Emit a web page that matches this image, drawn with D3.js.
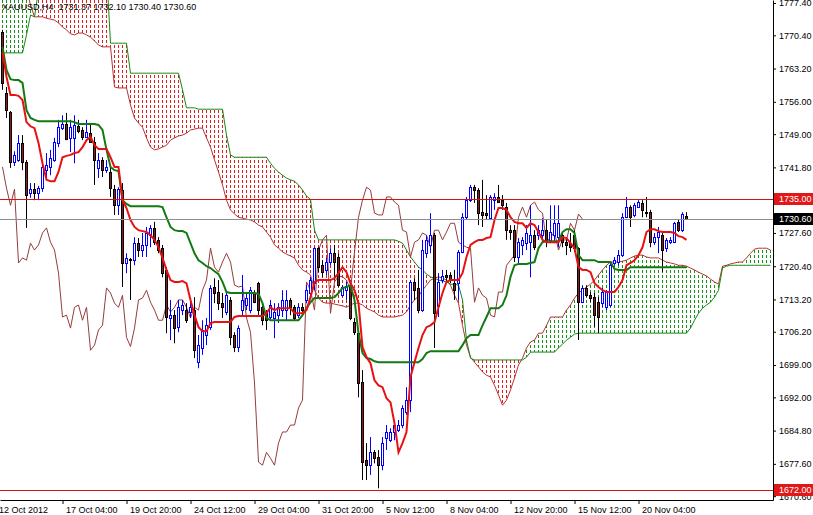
<!DOCTYPE html>
<html><head><meta charset="utf-8">
<script src="https://cdn.jsdelivr.net/npm/d3@7"></script>
<style>
html,body{margin:0;padding:0;background:#fff;}
svg{display:block;font-family:"Liberation Sans",Arial,sans-serif;}
</style></head><body>
<svg id="chart" width="813" height="515"></svg>
<script>
// ---- DATA (XAUUSD H4) ----
const symbolTitle = "XAUUSD,H4  1731.37 1732.10 1730.40 1730.60";

const openVals = [1771.1,1757.9,1753.8,1743.0,1743.4,1747.1,1743.0,1736.2,1737.1,1736.2,
1737.3,1741.2,1741.9,1743.4,1747.1,1750.3,1751.2,1748.2,1748.2,1750.8,
1749.9,1748.4,1749.2,1747.3,1741.7,1743.4,1741.2,1740.8,1737.1,1733.6,
1736.9,1721.1,1721.9,1721.7,1725.4,1723.9,1725.0,1727.1,1728.7,1726.1,
1724.3,1719.6,1709.2,1709.8,1707.2,1710.9,1710.9,1710.5,1710.9,1699.6,
1702.7,1705.5,1707.2,1715.9,1714.8,1712.4,1710.5,1713.1,1705.5,1703.0,
1710.9,1712.0,1710.9,1714.6,1716.7,1711.5,1710.2,1709.4,1709.2,1709.8,
1710.9,1710.9,1713.1,1711.5,1709.8,1711.5,1713.1,1714.6,1716.7,1724.3,
1720.6,1719.6,1721.3,1723.2,1722.4,1714.1,1715.2,1716.3,1708.3,1705.9,
1695.3,1678.4,1677.3,1680.1,1679.0,1677.3,1683.2,1682.7,1684.5,1684.9,
1686.0,1688.8,1691.4,1717.0,1715.7,1710.9,1723.2,1725.0,1727.1,1711.8,
1717.4,1718.5,1718.5,1716.7,1716.7,1723.5,1731.0,1734.7,1737.5,1736.9,
1732.1,1731.9,1730.8,1734.7,1735.4,1734.7,1733.2,1728.2,1728.2,1722.4,
1725.0,1725.4,1725.6,1727.1,1727.1,1727.1,1728.2,1726.1,1727.1,1726.7,
1727.1,1725.6,1725.4,1727.1,1724.3,1712.6,1715.7,1714.1,1713.7,1712.6,
1712.4,1711.5,1712.0,1721.1,1721.3,1722.8,1731.0,1733.2,1731.5,1733.2,
1734.1,1732.1,1732.1,1725.6,1726.7,1727.1,1724.3,1725.6,1725.6,1730.0,
1728.2,1731.37];

const highVals = [1771.6,1759.2,1754.0,1745.3,1748.8,1748.8,1743.4,1738.4,1738.4,1737.8,
1743.0,1744.9,1745.6,1748.2,1752.1,1753.1,1753.6,1752.1,1753.1,1752.1,
1750.5,1752.1,1751.4,1748.4,1744.9,1744.0,1743.4,1741.9,1738.0,1737.5,
1738.4,1723.2,1722.2,1726.7,1726.5,1727.6,1728.9,1729.3,1730.0,1726.7,
1725.0,1720.2,1713.1,1710.9,1713.1,1713.1,1712.4,1713.1,1713.7,1705.5,
1708.7,1709.2,1716.3,1717.8,1717.4,1714.6,1714.8,1713.7,1706.1,1707.6,
1718.5,1714.6,1715.9,1715.2,1717.0,1712.4,1710.9,1713.1,1712.4,1712.4,
1715.2,1715.2,1713.5,1712.0,1712.4,1712.4,1716.3,1718.1,1724.5,1724.5,
1721.7,1722.2,1724.3,1725.0,1723.2,1716.3,1717.0,1716.7,1709.2,1706.6,
1697.9,1682.1,1683.4,1680.6,1680.6,1683.4,1686.0,1685.3,1687.1,1687.1,
1690.3,1694.2,1717.4,1717.8,1719.6,1726.1,1727.1,1731.9,1727.6,1718.9,
1719.6,1719.6,1719.1,1719.6,1723.9,1731.9,1735.4,1738.0,1738.0,1737.3,
1739.1,1735.8,1735.8,1736.2,1738.0,1735.8,1734.1,1729.3,1729.3,1726.5,
1726.7,1729.3,1733.6,1728.2,1729.3,1730.8,1730.4,1733.6,1733.6,1733.6,
1727.8,1726.5,1727.6,1728.2,1724.5,1716.3,1716.3,1714.8,1714.6,1713.7,
1715.7,1715.2,1721.3,1722.4,1723.9,1731.9,1735.4,1733.6,1734.1,1734.7,
1734.7,1735.4,1732.6,1727.6,1728.9,1727.6,1726.5,1726.7,1730.0,1730.4,
1732.1,1732.10];

const lowVals = [1758.6,1752.5,1741.7,1742.1,1743.0,1741.2,1728.7,1735.2,1734.7,1734.7,
1736.5,1739.7,1740.1,1743.0,1746.2,1749.9,1747.7,1745.1,1742.7,1749.2,
1747.7,1748.2,1747.1,1738.0,1739.5,1739.7,1740.6,1735.4,1731.5,1731.5,
1715.9,1718.9,1713.1,1720.6,1722.4,1722.4,1722.4,1724.5,1725.0,1723.2,
1718.0,1705.9,1704.4,1703.7,1706.1,1709.8,1708.1,1709.2,1700.5,1698.3,
1701.2,1703.3,1706.6,1712.4,1710.9,1709.2,1709.8,1703.3,1701.8,1701.8,
1709.8,1710.9,1710.2,1712.4,1709.8,1707.6,1706.6,1708.7,1704.8,1708.1,
1709.4,1708.7,1709.8,1708.7,1709.2,1710.5,1712.4,1713.7,1715.2,1719.1,
1718.0,1718.5,1720.6,1717.4,1715.9,1713.7,1713.1,1708.7,1705.5,1692.0,
1674.1,1674.1,1675.2,1677.7,1672.3,1676.2,1680.6,1682.3,1682.7,1684.5,
1685.3,1688.2,1688.8,1713.1,1710.2,1710.5,1722.2,1723.2,1702.7,1709.4,
1716.7,1716.7,1716.7,1713.1,1713.1,1723.2,1730.4,1734.3,1734.1,1729.3,
1728.9,1730.4,1730.4,1732.6,1734.1,1732.6,1726.1,1726.1,1721.3,1721.1,
1722.8,1723.9,1718.0,1723.9,1726.1,1725.6,1724.5,1725.4,1725.4,1724.5,
1724.5,1722.8,1723.5,1723.5,1704.4,1712.4,1713.7,1712.6,1707.2,1705.9,
1711.5,1710.9,1711.5,1720.6,1720.6,1722.4,1730.8,1728.9,1731.0,1733.0,
1731.0,1731.0,1724.5,1725.0,1723.2,1719.1,1723.5,1725.2,1725.4,1727.8,
1727.8,1730.40];

const closeVals = [1760.1,1754.2,1743.0,1744.5,1747.1,1743.0,1735.8,1737.1,1736.2,1737.3,
1741.9,1742.3,1743.8,1747.3,1750.5,1751.2,1747.9,1750.5,1751.0,1749.7,
1748.4,1749.5,1747.3,1743.4,1743.4,1741.2,1741.9,1737.3,1733.6,1737.1,
1721.1,1722.2,1721.7,1725.4,1723.9,1725.0,1727.6,1728.7,1725.6,1723.9,
1718.9,1709.4,1709.8,1707.0,1711.5,1712.0,1708.7,1711.5,1702.2,1703.3,
1706.6,1707.6,1715.7,1714.6,1712.4,1711.5,1714.1,1705.0,1703.0,1707.0,
1713.1,1713.5,1715.2,1712.6,1710.9,1708.7,1708.7,1712.0,1710.5,1711.5,
1713.1,1713.1,1711.5,1709.2,1711.5,1710.9,1715.2,1717.4,1724.3,1720.2,
1719.1,1721.3,1723.2,1721.3,1716.3,1715.9,1716.1,1709.2,1706.1,1695.1,
1678.0,1677.3,1680.1,1678.8,1677.3,1682.1,1684.5,1684.5,1686.0,1686.0,
1689.7,1691.4,1717.0,1715.2,1710.9,1723.9,1726.1,1727.1,1710.2,1717.0,
1718.3,1718.1,1717.4,1715.2,1723.5,1731.0,1734.7,1737.5,1736.9,1731.9,
1731.5,1731.5,1735.4,1735.4,1734.3,1733.6,1728.2,1727.8,1722.4,1725.6,
1726.1,1727.6,1727.1,1724.5,1728.2,1728.2,1726.1,1727.8,1729.7,1729.7,
1725.6,1725.0,1724.5,1724.3,1712.6,1715.7,1714.1,1713.5,1709.8,1709.4,
1714.8,1714.8,1720.6,1721.7,1722.8,1731.0,1733.2,1731.0,1733.6,1734.3,
1732.6,1731.9,1725.6,1726.7,1727.8,1723.9,1726.1,1726.1,1729.7,1728.2,
1731.7,1730.60];

const tenkan = [1766.8,1761.4,1757.5,1757.5,1757.3,1756.4,1751.6,1750.7,1750.3,1747.1,
1742.7,1739.1,1738.8,1738.8,1740.8,1744.0,1744.3,1744.5,1744.9,1745.1,
1746.2,1747.7,1748.4,1746.6,1745.8,1745.8,1745.8,1744.0,1741.9,1741.9,
1734.7,1733.0,1730.4,1728.9,1728.2,1728.0,1727.8,1727.1,1726.1,1724.5,
1722.2,1719.6,1717.4,1717.0,1717.0,1717.2,1716.7,1713.1,1709.8,1707.2,
1706.3,1706.3,1708.1,1708.3,1708.3,1708.3,1708.3,1708.3,1709.4,1709.6,
1709.6,1709.6,1709.6,1709.6,1709.6,1709.6,1710.2,1711.5,1710.9,1711.3,
1711.3,1711.3,1711.3,1710.2,1710.2,1710.2,1710.9,1713.7,1717.0,1717.4,
1717.4,1717.4,1717.4,1717.8,1718.9,1720.2,1719.1,1716.7,1715.2,1712.4,
1702.9,1700.7,1699.4,1695.7,1694.6,1694.2,1691.8,1690.9,1686.4,1680.1,
1682.1,1684.5,1696.4,1699.6,1702.7,1705.5,1707.2,1707.6,1708.3,1711.5,
1714.6,1717.0,1717.4,1717.4,1717.4,1718.9,1722.4,1725.0,1725.6,1726.1,
1726.1,1726.5,1726.7,1730.4,1733.0,1733.0,1732.6,1731.0,1730.0,1729.7,
1729.7,1728.7,1729.7,1729.3,1727.8,1726.1,1725.6,1725.6,1725.6,1725.6,
1726.7,1726.5,1725.4,1724.3,1720.2,1719.6,1719.6,1719.1,1716.7,1715.9,
1715.2,1714.8,1714.8,1714.8,1715.9,1717.4,1720.6,1721.1,1721.7,1722.8,
1724.5,1727.8,1728.4,1728.4,1728.0,1727.8,1727.8,1727.8,1727.6,1726.9,
1726.7,1726.1];

const kijun = [1767.9,1762.9,1760.9,1760.7,1760.7,1760.1,1754.2,1752.5,1752.1,1751.8,
1751.8,1751.8,1751.8,1751.8,1751.8,1751.8,1751.8,1751.8,1751.6,1751.2,
1751.2,1751.2,1751.2,1751.2,1751.0,1749.9,1745.6,1741.9,1741.2,1741.0,
1734.7,1733.9,1733.4,1733.4,1733.4,1733.4,1733.4,1733.4,1733.4,1733.4,
1733.2,1731.0,1728.9,1728.2,1728.0,1728.0,1727.6,1725.4,1723.2,1721.7,
1721.1,1720.4,1720.0,1719.3,1718.7,1717.0,1714.8,1714.6,1714.6,1714.6,
1714.6,1714.6,1714.6,1714.6,1714.4,1712.4,1709.2,1708.7,1708.7,1708.7,
1708.7,1708.7,1708.7,1708.7,1708.7,1709.8,1711.3,1712.6,1713.5,1713.5,
1713.5,1713.5,1713.5,1713.7,1714.6,1715.7,1715.9,1716.3,1713.1,1705.9,
1701.6,1700.5,1700.3,1699.8,1699.6,1699.6,1699.6,1699.6,1699.6,1699.6,
1699.6,1699.6,1699.6,1699.6,1699.6,1700.3,1701.6,1702.0,1702.0,1702.0,
1702.0,1702.0,1702.0,1702.0,1702.0,1703.3,1704.8,1705.5,1705.5,1705.5,
1707.6,1709.4,1711.3,1711.3,1711.3,1712.0,1714.1,1718.1,1720.6,1720.9,
1720.9,1720.9,1721.1,1721.3,1724.3,1725.6,1725.8,1725.8,1725.8,1725.8,
1727.8,1728.4,1728.4,1727.6,1722.8,1721.7,1721.7,1721.7,1721.7,1721.3,
1721.3,1721.3,1721.3,1719.8,1719.6,1719.6,1719.6,1720.2,1720.2,1720.2,
1720.2,1720.2,1720.2,1720.2,1720.2,1720.2,1720.2,1720.2,1720.2,1720.2,
1720.2,1720.2];

// Senkou spans, already shifted 26 bars forward (one value per bar slot on screen)
const spanA = [1784.6,1784.6,1784.6,1784.6,1784.6,1784.6,1780.2,1777.0,1774.4,1774.4,
1774.4,1774.1,1773.9,1773.7,1773.1,1772.2,1771.6,1770.7,1770.5,1770.9,
1770.9,1770.5,1770.0,1769.2,1768.3,1767.9,1767.9,1767.9,1759.2,1759.0,
1759.0,1759.0,1755.3,1752.5,1751.4,1750.5,1748.2,1746.2,1745.6,1745.8,
1746.2,1746.6,1747.7,1748.2,1748.6,1748.8,1749.2,1749.9,1750.1,1750.3,
1750.3,1748.2,1746.2,1743.4,1740.8,1738.0,1734.7,1732.6,1731.7,1731.0,
1730.8,1730.6,1730.4,1730.0,1729.3,1728.9,1727.8,1726.7,1725.0,1724.3,
1723.5,1723.0,1722.6,1722.2,1720.6,1719.6,1719.1,1718.5,1715.2,1713.5,
1712.6,1712.4,1712.4,1712.2,1712.0,1711.8,1711.5,1712.0,1712.4,1712.4,
1712.0,1711.3,1710.9,1710.5,1709.8,1709.4,1709.4,1709.4,1709.4,1709.6,
1709.8,1710.5,1712.0,1713.1,1713.9,1715.2,1716.3,1717.4,1717.8,1718.1,
1717.8,1717.4,1716.3,1714.1,1712.4,1707.6,1703.3,1700.7,1699.6,1698.6,
1697.5,1696.8,1696.4,1694.6,1692.5,1690.3,1691.4,1693.6,1696.2,1699.0,
1700.5,1702.7,1704.0,1704.4,1705.9,1705.9,1707.6,1709.4,1709.4,1709.4,
1709.4,1710.9,1712.0,1713.5,1714.6,1715.2,1715.9,1716.5,1717.4,1718.5,
1719.6,1720.6,1721.3,1721.3,1721.3,1721.5,1721.7,1722.2,1722.6,1722.8,
1722.8,1722.4,1722.2,1722.2,1722.2,1721.7,1721.3,1721.1,1720.9,1720.6,
1720.6,1720.4,1720.0,1719.6,1719.1,1718.7,1718.3,1717.6,1717.0,1716.5,
1720.4,1720.6,1720.9,1721.1,1721.3,1721.3,1722.2,1723.2,1724.1,1724.3,
1724.3,1724.3,1723.9];

const spanB = [1766.6,1766.6,1766.6,1766.6,1766.6,1766.6,1770.5,1774.8,1774.4,1780.2,
1784.6,1784.6,1784.6,1784.6,1784.6,1784.6,1784.6,1784.6,1784.6,1784.6,
1784.6,1784.6,1784.6,1784.6,1784.6,1784.6,1784.6,1768.7,1768.7,1768.7,
1768.7,1768.7,1762.2,1762.2,1762.2,1762.2,1762.2,1762.2,1762.2,1762.2,
1762.2,1762.2,1762.2,1762.2,1762.2,1758.6,1754.7,1754.7,1754.7,1754.4,
1754.4,1754.4,1754.4,1754.4,1754.4,1754.4,1748.8,1744.5,1744.0,1744.0,
1744.0,1744.0,1744.0,1744.0,1744.0,1744.0,1744.0,1742.7,1741.6,1740.8,
1740.1,1739.5,1739.1,1738.8,1738.0,1736.9,1735.6,1734.9,1728.2,1726.1,
1726.1,1726.1,1726.1,1726.1,1726.1,1726.1,1726.1,1726.1,1726.1,1726.1,
1726.1,1726.1,1726.1,1726.1,1726.1,1726.1,1726.1,1726.1,1726.1,1725.8,
1725.4,1723.9,1722.4,1721.3,1720.2,1719.6,1718.7,1718.1,1717.8,1717.4,
1717.2,1717.0,1716.5,1716.5,1716.3,1713.1,1704.4,1700.5,1700.1,1700.1,
1700.1,1700.1,1700.1,1700.1,1700.1,1700.1,1700.1,1700.1,1700.1,1700.1,
1700.1,1700.7,1701.8,1701.8,1701.8,1701.8,1701.8,1701.8,1701.8,1702.7,
1703.5,1704.4,1705.0,1705.7,1705.9,1705.9,1705.9,1705.9,1705.9,1705.9,
1705.9,1705.9,1705.9,1705.9,1705.9,1705.9,1705.9,1705.9,1705.9,1705.9,
1705.9,1705.9,1705.9,1705.9,1705.9,1705.9,1705.9,1705.9,1705.9,1705.9,
1705.9,1705.9,1707.0,1708.7,1710.2,1711.3,1712.0,1712.6,1713.7,1715.2,
1720.0,1720.4,1720.6,1720.6,1720.6,1720.6,1720.6,1720.6,1720.6,1720.6,
1720.6,1720.6,1720.6];

const chikouShift = 26;
const xTickBars = [-1.75, 15, 31, 47, 63, 79, 95, 111, 127, 143, 159];
const xTickLabels = ["12 Oct 2012","17 Oct 04:00","19 Oct 20:00","24 Oct 12:00","29 Oct 04:00",
  "31 Oct 20:00","5 Nov 12:00","8 Nov 04:00","12 Nov 20:00","15 Nov 12:00","20 Nov 04:00"];
const yTickVals = [1777.40,1770.40,1763.20,1756.00,1749.00,1741.80,1734.80,1727.60,1720.40,
  1713.20,1706.20,1699.00,1692.00,1684.80,1677.60,1670.60];
const hLines = [{v:1735.00, kind:"level"}, {v:1730.60, kind:"bid"}, {v:1672.00, kind:"level"}];

// ---- DRAWING ----
const plotR = 773, plotB = 500;
const x = d3.scaleLinear().domain([-0.625, 192.625]).range([0, plotR]);
const y = d3.scaleLinear().domain([1669.77, 1778.05]).range([plotB, 0]);
const svg = d3.select("#chart");
svg.append("rect").attr("width",813).attr("height",515).attr("fill","#fff");
svg.append("defs").append("clipPath").attr("id","clip")
  .append("rect").attr("x",0).attr("y",0).attr("width",plotR).attr("height",plotB);
const g = svg.append("g").attr("clip-path","url(#clip)");

// cloud hatch (vertical dotted strokes per bar, aligned in rows)
const cloud = spanA.map((a,i)=>({i, a, b: spanB[i]}));
g.append("g").attr("shape-rendering","crispEdges")
  .selectAll("line").data(cloud).join("line")
  .each(function(d){
    const y1 = Math.round(Math.min(y(d.a), y(d.b))), y2 = Math.round(Math.max(y(d.a), y(d.b)));
    d3.select(this).attr("x1", x(d.i)).attr("x2", x(d.i))
      .attr("y1", y1).attr("y2", y2)
      .attr("stroke-dashoffset", ((y1 % 5) + 5) % 5);
  })
  .attr("stroke", d => d.a >= d.b ? "#129412" : "#dc1e1e")
  .attr("stroke-width", 1)
  .attr("stroke-dasharray", "3,2");

const lineGen = d3.line().x(d=>x(d.i)).y(d=>y(d.v));
const toPts = arr => arr.map((v,i)=>({i, v}));

g.append("path").attr("d", lineGen(toPts(spanA))).attr("fill","none").attr("stroke","#b83232").attr("stroke-width",1);
g.append("path").attr("d", lineGen(toPts(spanB))).attr("fill","none").attr("stroke","#138a13").attr("stroke-width",1);

// chikou: closes drawn 26 bars back
const chikou = closeVals.slice(chikouShift).map((v,j)=>({i:j, v}));
g.append("path").attr("d", lineGen(chikou)).attr("fill","none").attr("stroke","#963c3c").attr("stroke-width",1);

// candles
const candles = openVals.map((o,i)=>({i, o, h:highVals[i], l:lowVals[i], c:closeVals[i]}));
const cg = g.append("g");
cg.selectAll("line").data(candles).join("line")
  .attr("x1", d=>x(d.i)).attr("x2", d=>x(d.i))
  .attr("y1", d=>y(d.h)).attr("y2", d=>y(d.l))
  .attr("stroke", d=> d.c >= d.o ? "#0000ff" : "#000")
  .attr("stroke-width",1);
cg.selectAll("rect").data(candles).join("rect")
  .attr("x", d=>x(d.i)-1)
  .attr("y", d=>Math.round(y(Math.max(d.o,d.c)))+0.5)
  .attr("width", 2)
  .attr("height", d=>Math.max(1, Math.round(y(Math.min(d.o,d.c))) - Math.round(y(Math.max(d.o,d.c)))))
  .attr("fill", d=> d.c >= d.o ? "#fff" : "#8a1c1c")
  .attr("stroke", d=> d.c >= d.o ? "#0000ff" : "#000")
  .attr("stroke-width",1);

// tenkan & kijun
g.append("path").attr("d", lineGen(toPts(kijun))).attr("fill","none").attr("stroke","#137a13").attr("stroke-width",2);
g.append("path").attr("d", lineGen(toPts(tenkan))).attr("fill","none").attr("stroke","#e81010").attr("stroke-width",2);

// horizontal lines
g.selectAll("line.h").data(hLines).join("line").attr("class","h")
  .attr("x1",0).attr("x2",plotR)
  .attr("y1", d=>Math.round(y(d.v))+0.5).attr("y2", d=>Math.round(y(d.v))+0.5)
  .attr("stroke", d=> d.kind==="bid" ? "#8c8c8c" : "#d81010").attr("stroke-width",1);

// title
svg.append("text").attr("x",2).attr("y",10).attr("font-size","9px").attr("fill","#000")
  .style("white-space","pre").text(symbolTitle);

// axes
const yAxis = d3.axisRight(y).tickValues(yTickVals).tickFormat(d3.format(".2f"))
  .tickSize(3).tickPadding(3).tickSizeOuter(0);
const gy = svg.append("g").attr("transform",`translate(${plotR},0)`).call(yAxis);
gy.attr("font-family", null).attr("font-size", null);
gy.selectAll("text").attr("font-size","9px").attr("fill","#000");
gy.selectAll("line,path").attr("stroke","#000");

const xAxis = d3.axisBottom(x).tickValues(xTickBars).tickFormat((d,i)=>xTickLabels[i])
  .tickSize(4).tickPadding(3).tickSizeOuter(0);
const gx = svg.append("g").attr("transform",`translate(0,${plotB})`).call(xAxis);
gx.attr("font-family", null).attr("font-size", null);
gx.selectAll("text").attr("font-size","9px").attr("fill","#000").attr("text-anchor","start").attr("x",3);
gx.selectAll("line,path").attr("stroke","#000");

// price labels on the right axis
const labelG = svg.append("g");
const lab = labelG.selectAll("g").data(hLines).join("g")
  .attr("transform", d=>`translate(${plotR+1},${Math.round(y(d.v))})`);
lab.append("rect").attr("x",0).attr("y",-6).attr("width",40).attr("height",12)
  .attr("fill", d=> d.kind==="bid" ? "#000" : "#e01818");
lab.append("text").attr("x",5).attr("y",0).attr("dy","0.34em").attr("font-size","9px")
  .attr("fill","#fff").text(d=>d3.format(".2f")(d.v));
</script>
</body></html>
